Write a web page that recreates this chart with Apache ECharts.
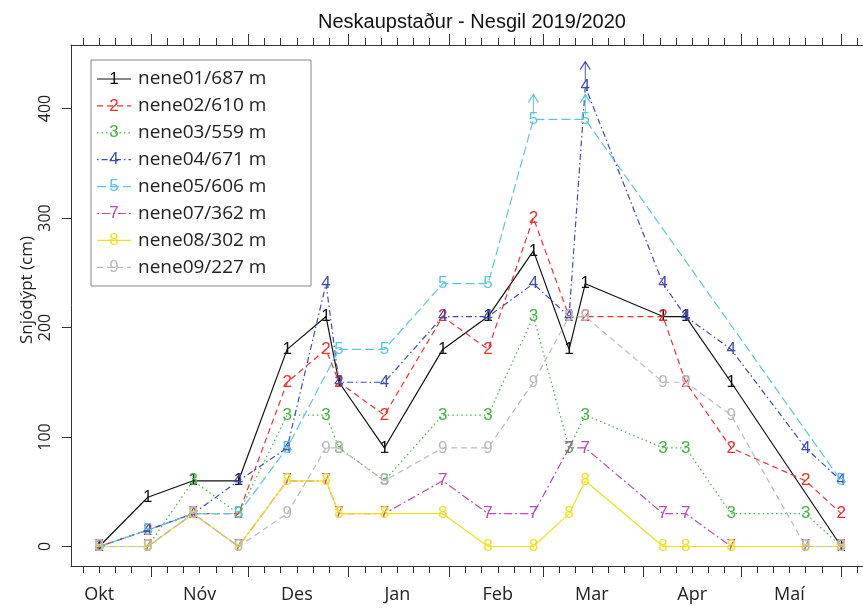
<!DOCTYPE html>
<html>
<head>
<meta charset="utf-8">
<script src="https://cdn.jsdelivr.net/npm/echarts@6/dist/echarts.min.js"></script>
<style>
  html, body { margin: 0; padding: 0; background: #fff; }
  #chart { width: 863px; height: 610px; }
</style>
</head>
<body>
<div id="chart"></div>
<script>
// mælingadagar
const DATES = ['2019-10-16', '2019-10-31', '2019-11-14', '2019-11-28', '2019-12-13', '2019-12-25',
  '2019-12-29', '2020-01-12', '2020-01-30', '2020-02-13', '2020-02-27', '2020-03-09', '2020-03-14',
  '2020-04-07', '2020-04-14', '2020-04-28', '2020-05-21', '2020-06-01'];

// snjódýpt (cm), null = ekki mælt
const S1 = [0, 45, 60, 60, 180, 210, 150, 90, 180, 210, 270, 180, 240, 210, 210, 150, null, 0];
const S2 = [0, 15, 30, 30, 150, 180, 150, 120, 210, 180, 300, 210, 210, 210, 150, 90, 60, 30];
const S3 = [0, 0, 60, 30, 120, 120, 90, 60, 120, 120, 210, 90, 120, 90, 90, 30, 30, 0];
const S4 = [0, 15, 30, 60, 90, 240, 150, 150, 210, 210, 240, 210, 420, 240, 210, 180, 90, 60];
const S5 = [0, 15, 30, 30, 90, null, 180, 180, 240, 240, 390, null, 390, null, null, null, null, 60];
const S7 = [0, 0, 30, 0, 60, 60, 30, 30, 60, 30, 30, 90, 90, 30, 30, 0, 0, 0];
const S8 = [0, 0, 30, 0, 60, 60, 30, 30, 30, 0, 0, 30, 60, 0, 0, 0, 0, 0];
const S9 = [0, 0, 30, 0, 30, 90, 90, 60, 90, 90, 150, 210, 210, 150, 150, 120, 0, 0];

// stikur sem fóru á kaf (ör upp)
const UP4 = ['2020-03-14'];
const UP5 = ['2020-02-27', '2020-03-14'];

const NAMES = ['nene01/687 m', 'nene02/610 m', 'nene03/559 m', 'nene04/671 m',
  'nene05/606 m', 'nene07/362 m', 'nene08/302 m', 'nene09/227 m'];
const DIGITS = ['1', '2', '3', '4', '5', '7', '8', '9'];
const MONTHS = ['Okt', 'Nóv', 'Des', 'Jan', 'Feb', 'Mar', 'Apr', 'Maí'];
const MONTH_START = ['2019-10-01', '2019-11-01', '2019-12-01', '2020-01-01', '2020-02-01',
  '2020-03-01', '2020-04-01', '2020-05-01', '2020-06-01'];
const Y_TICKS = [0, 100, 200, 300, 400];

const COLORS = ['#111111', '#f0302f', '#46b446', '#3d4db5', '#5cc6de', '#b94cb4', '#f2e21c', '#bbbbbb'];
const DASH = ['solid', [6, 4], [1.5, 3], [1.5, 3, 6, 3], [9, 4], [2, 3, 8, 3], 'solid', [6, 4]];
const ALL = [S1, S2, S3, S4, S5, S7, S8, S9];
const UPS = [[], [], [], UP4, UP5, [], [], []];

const X_MIN = 6.3, X_MAX = 250.7;
const AX = '#333';
const DIGIT_FONT = 'Liberation Sans';
const TXT_FONT = 'Open Sans';

function dayOf(s) {
  return (Date.parse(s + 'T00:00:00Z') - Date.UTC(2019, 9, 1)) / 864e5;
}

const longTicks = MONTH_START.map(dayOf).filter((d) => d >= X_MIN && d <= X_MAX);
const shortTicks = [];
MONTH_START.forEach(function (s) {
  [5, 10, 15, 20, 25].forEach(function (k) {
    const d = dayOf(s) + k;
    if (d >= X_MIN && d <= X_MAX) shortTicks.push(d);
  });
});
const labelDays = MONTHS.map((m, i) => dayOf(MONTH_START[i]) + 15);

function monthName(v) {
  const i = labelDays.findIndex((d) => Math.abs(d - v) < 0.5);
  return i >= 0 ? MONTHS[i] : '';
}

function xAxisDef(pos, ticks, len, showLine, showLabel) {
  return {
    type: 'value',
    position: pos,
    min: X_MIN,
    max: X_MAX,
    splitLine: { show: false },
    axisLine: { show: showLine, onZero: false, lineStyle: { color: AX, width: 1 } },
    axisTick: { show: true, customValues: ticks, length: len, lineStyle: { color: AX, width: 1 } },
    axisLabel: showLabel
      ? { show: true, customValues: labelDays, formatter: monthName, margin: 20,
          color: '#222', fontSize: 18, fontFamily: TXT_FONT }
      : { show: false },
  };
}

const series = ALL.map(function (vals, k) {
  const c = COLORS[k];
  const data = [];
  DATES.forEach(function (d, i) {
    if (vals[i] == null) return;
    const item = { value: [dayOf(d), vals[i]] };
    if (UPS[k].indexOf(d) >= 0) {
      item.symbol = 'path://M5,0 L5,20 M0,8 L5,0 L10,8';
      item.symbolSize = [10, 20];
      item.symbolOffset = [0, -15];
      item.itemStyle = { color: 'rgba(0,0,0,0)', borderColor: c, borderWidth: 1.3 };
      item.label = { offset: [0, 15] };
    }
    data.push(item);
  });
  return {
    name: NAMES[k],
    type: 'line',
    data: data,
    symbol: 'circle',
    symbolSize: 1,
    itemStyle: { color: 'rgba(0,0,0,0)' },
    lineStyle: { color: c, width: 1.2, type: DASH[k] },
    label: {
      show: true,
      position: 'inside',
      formatter: DIGITS[k],
      color: c,
      fontSize: 17,
      fontFamily: DIGIT_FONT,
    },
    emphasis: { disabled: true },
    animation: false,
  };
});

// skýringarkassi
const LX = 91, LY = 60, LW = 220, LH = 226, ROW = 26.9;
const legend = [{
  type: 'rect',
  shape: { x: LX, y: LY, width: LW, height: LH },
  style: { fill: '#fff', stroke: '#888', lineWidth: 1 },
}];
NAMES.forEach(function (n, i) {
  const y = LY + 19 + i * ROW;
  legend.push({
    type: 'line',
    shape: { x1: LX + 6, y1: y, x2: LX + 40, y2: y },
    style: { stroke: COLORS[i], lineWidth: 1.2, lineDash: DASH[i] === 'solid' ? null : DASH[i] },
  });
  legend.push({
    type: 'text', x: LX + 23, y: y,
    style: { text: DIGITS[i], fill: COLORS[i], font: '17px ' + DIGIT_FONT, align: 'center', verticalAlign: 'middle' },
  });
  legend.push({
    type: 'text', x: LX + 47, y: y,
    style: { text: n, fill: '#222', font: '19px "' + TXT_FONT + '"', align: 'left', verticalAlign: 'middle' },
  });
});

const chart = echarts.init(document.getElementById('chart'), null, { renderer: 'canvas' });
chart.setOption({
  animation: false,
  backgroundColor: '#fff',
  title: {
    text: 'Neskaupstaður - Nesgil 2019/2020',
    left: 467,
    top: 7,
    textAlign: 'center',
    textStyle: { color: '#111', fontSize: 20, fontWeight: 'normal', fontFamily: DIGIT_FONT },
  },
  grid: { left: 71, right: 0, top: 45, bottom: 44 },
  xAxis: [
    xAxisDef('bottom', shortTicks, 7, true, true),
    xAxisDef('bottom', longTicks, 11, false, false),
    xAxisDef('top', shortTicks, 7, true, false),
    xAxisDef('top', longTicks, 11, false, false),
  ],
  yAxis: {
    type: 'value',
    min: -17.8,
    max: 458,
    splitLine: { show: false },
    axisLine: { show: true, lineStyle: { color: AX, width: 1 } },
    axisTick: { show: true, customValues: Y_TICKS, length: 9, lineStyle: { color: AX } },
    axisLabel: { customValues: Y_TICKS, rotate: 90, margin: 18, color: '#222', fontSize: 16, fontFamily: TXT_FONT },
  },
  graphic: legend.concat([{
    type: 'text', x: 27, y: 290, rotation: Math.PI / 2,
    style: { text: 'Snjódýpt (cm)', fill: '#222', font: '17px "' + TXT_FONT + '"', align: 'center', verticalAlign: 'middle' },
  }]),
  series: series,
});
</script>
</body>
</html>
